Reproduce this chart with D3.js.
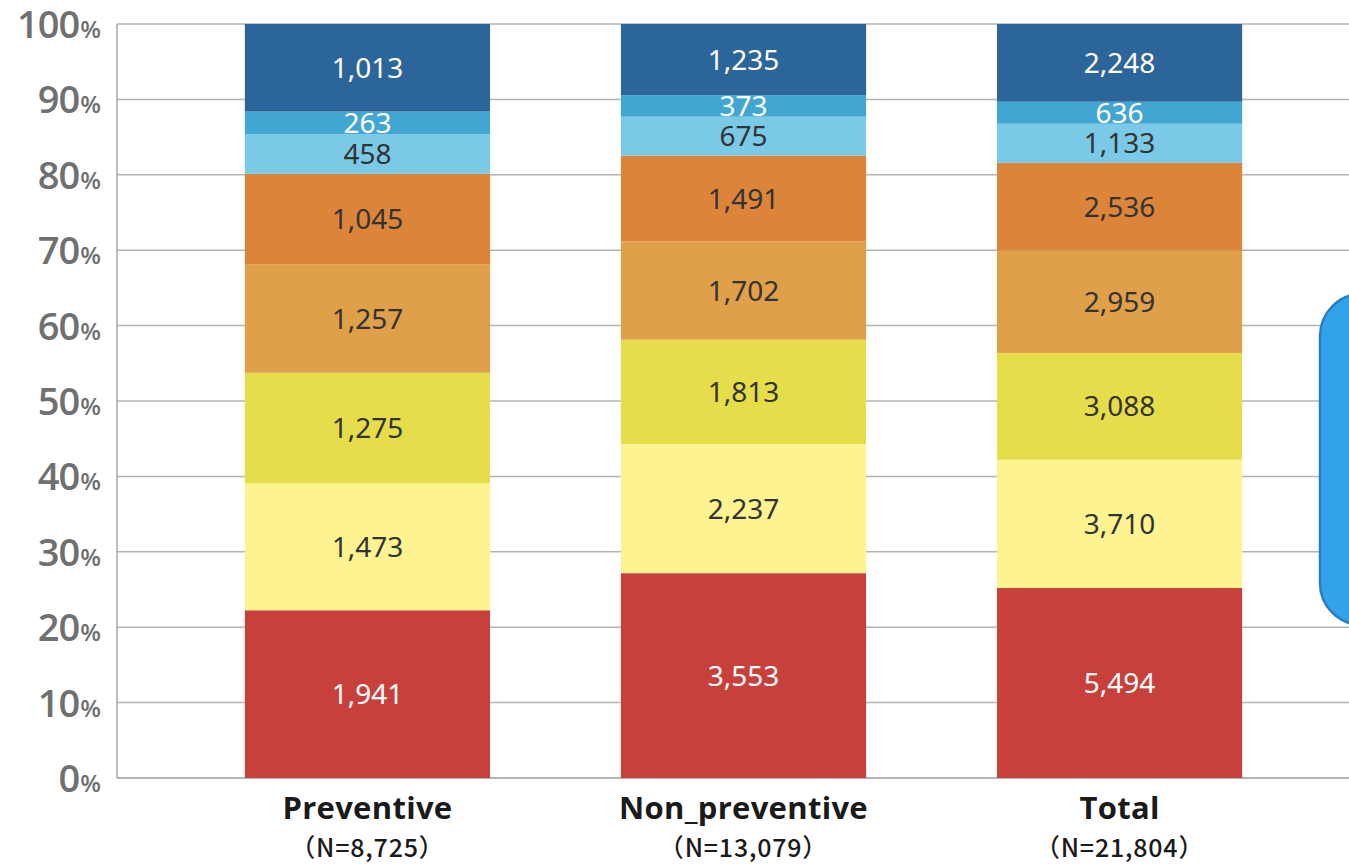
<!DOCTYPE html>
<html>
<head>
<meta charset="utf-8">
<script src="https://cdn.jsdelivr.net/npm/d3@7"></script>
<style>
  html, body { margin: 0; padding: 0; background: #fff; overflow: hidden; }
  svg { display: block; }
</style>
</head>
<body>
<svg id="chart" width="1349" height="864"></svg>
<script>
// Groups along the x axis and their sample sizes
const categories = ["Preventive", "Non_preventive", "Total"];
const sampleSizes = ["8,725", "13,079", "21,804"];

// Stack layers from bottom to top
const layers = ["s1", "s2", "s3", "s4", "s5", "s6", "s7", "s8"];
const layerColors = ["#c8403b", "#fdf391", "#e6dd4b", "#e0a04a", "#dc853a", "#7acae7", "#42a6d3", "#2c6599"];
const labelColors = ["#ffffff", "#333333", "#333333", "#333333", "#333333", "#333333", "#ffffff", "#ffffff"];

// Counts per layer (bottom to top) for each group
const preventive    = [1941, 1473, 1275, 1257, 1045, 458, 263, 1013];
const nonPreventive = [3553, 2237, 1813, 1702, 1491, 675, 373, 1235];
const total         = [5494, 3710, 3088, 2959, 2536, 1133, 636, 2248];

const yTicks = [0, 10, 20, 30, 40, 50, 60, 70, 80, 90, 100];

const seriesByGroup = [preventive, nonPreventive, total];

const svg = d3.select("#chart");
const fmt = d3.format(",");

const x = d3.scaleBand()
  .domain(categories)
  .range([117, 1370])
  .paddingInner(0.348)
  .paddingOuter(0.34);

const y = d3.scaleLinear().domain([0, 100]).range([778, 24]);

// Gridlines
svg.append("g")
  .selectAll("line")
  .data(yTicks)
  .join("line")
  .attr("x1", 117).attr("x2", 1349)
  .attr("y1", d => y(d)).attr("y2", d => y(d))
  .attr("stroke", d => d === 0 ? "#9a9a9a" : "#b4b4b4")
  .attr("stroke-width", 1.5);

// Left axis line
svg.append("line")
  .attr("x1", 117).attr("x2", 117)
  .attr("y1", y(100)).attr("y2", y(0))
  .attr("stroke", "#aaaaaa").attr("stroke-width", 1.5);

// Y tick labels: number with a smaller percent sign
const tickLabels = svg.append("g")
  .selectAll("text")
  .data(yTicks)
  .join("text")
  .attr("x", 100)
  .attr("y", d => y(d) + 14)
  .attr("text-anchor", "end")
  .attr("fill", "#707070")
  .attr("font-family", "'Open Sans', 'Noto Sans', sans-serif")
  .attr("font-weight", 600)
  .attr("font-size", 38)
  .attr("letter-spacing", -1);
tickLabels.append("tspan").text(d => d);
tickLabels.append("tspan").attr("font-size", 24).attr("dx", 1).text("%");

// Stacked percentage data
const stackRows = categories.map((c, i) => {
  const vals = seriesByGroup[i];
  const sum = d3.sum(vals);
  const row = { category: c, sum };
  layers.forEach((k, j) => { row[k] = vals[j] / sum * 100; row[k + "_n"] = vals[j]; });
  return row;
});

const stacked = d3.stack().keys(layers)(stackRows);

const layerG = svg.append("g")
  .selectAll("g")
  .data(stacked)
  .join("g")
  .attr("fill", (d, i) => layerColors[i]);

layerG.selectAll("rect")
  .data(d => d.map(v => ({ v, key: d.key })))
  .join("rect")
  .attr("x", d => x(d.v.data.category))
  .attr("width", x.bandwidth())
  .attr("y", d => y(d.v[1]))
  .attr("height", d => y(d.v[0]) - y(d.v[1]));

// Value labels
const labelG = svg.append("g");
stacked.forEach((layer, i) => {
  labelG.selectAll(null)
    .data(layer)
    .join("text")
    .attr("x", d => x(d.data.category) + x.bandwidth() / 2)
    .attr("y", d => y((d[0] + d[1]) / 2))
    .attr("dy", "0.36em")
    .attr("text-anchor", "middle")
    .attr("fill", labelColors[i])
    .attr("font-family", "'Noto Sans', 'Open Sans', sans-serif")
    .attr("font-size", 28)
    .text(d => fmt(d.data[layer.key + "_n"]));
});

// Category labels with sample size
const catG = svg.append("g")
  .selectAll("g")
  .data(categories)
  .join("g")
  .attr("transform", d => `translate(${x(d) + x.bandwidth() / 2},0)`);

catG.append("text")
  .attr("y", 819)
  .attr("text-anchor", "middle")
  .attr("fill", "#1a1a1a")
  .attr("font-family", "'Open Sans', 'Roboto', sans-serif")
  .attr("font-weight", 700)
  .attr("font-size", 31)
  .attr("letter-spacing", 0.3)
  .text(d => d);

catG.append("text")
  .attr("y", 857)
  .attr("text-anchor", "middle")
  .attr("fill", "#1a1a1a")
  .attr("font-family", "'Noto Sans CJK JP', 'Noto Sans', sans-serif")
  .attr("font-weight", 500)
  .attr("font-size", 25)
  .attr("letter-spacing", 0.8)
  .text((d, i) => `（N=${sampleSizes[i]}）`);

// Callout box at the right edge
svg.append("rect")
  .attr("x", 1320)
  .attr("y", 294)
  .attr("width", 120)
  .attr("height", 331)
  .attr("rx", 42)
  .attr("fill", "#31a3eb")
  .attr("stroke", "#2a7dbf")
  .attr("stroke-width", 2.5);
</script>
</body>
</html>
